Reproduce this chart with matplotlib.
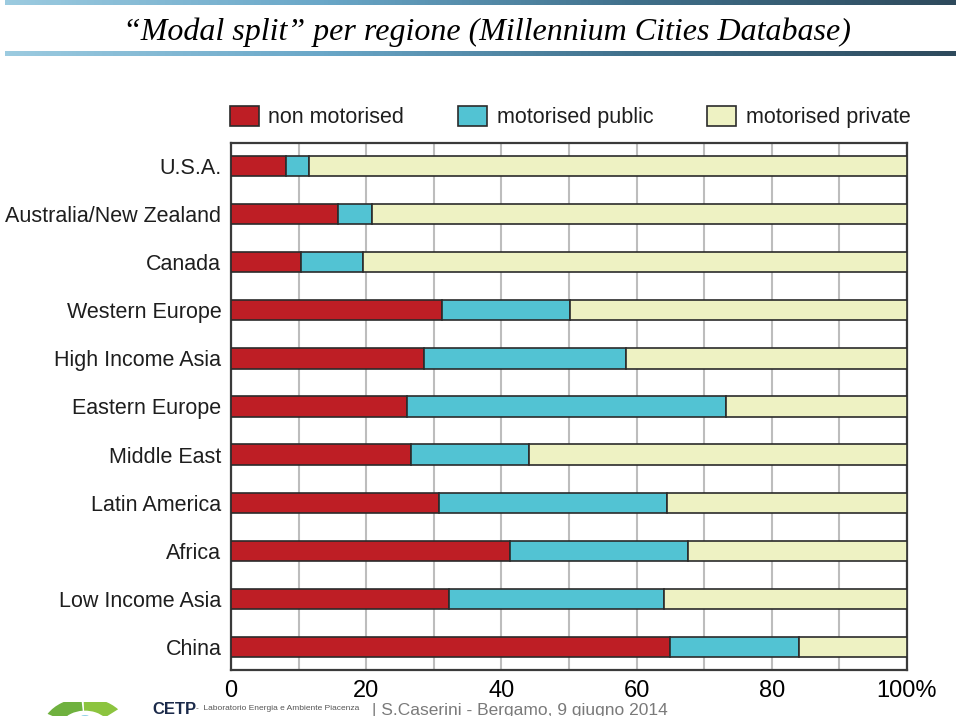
import numpy as np
import matplotlib
matplotlib.use("Agg")
import matplotlib.pyplot as plt
from matplotlib.patches import Rectangle, Wedge, Circle

# data (percent of trips)
regions = ["U.S.A.", "Australia/New Zealand", "Canada", "Western Europe",
           "High Income Asia", "Eastern Europe", "Middle East", "Latin America",
           "Africa", "Low Income Asia", "China"]
non_motorised = [8.1, 15.8, 10.4, 31.2, 28.5, 26.0, 26.6, 30.7, 41.3, 32.3, 65.0]
motorised_public = [3.4, 5.1, 9.1, 18.9, 29.9, 47.2, 17.5, 33.8, 26.3, 31.8, 19.0]
motorised_private = [100 - a - b for a, b in zip(non_motorised, motorised_public)]
series_labels = ["non motorised", "motorised public", "motorised private"]
series_colors = ["#be1e25", "#52c3d3", "#eef2c3"]
xticks = [0, 20, 40, 60, 80, 100]
xtick_labels = ["0", "20", "40", "60", "80", "100%"]

title = "\u201cModal split\u201d per regione (Millennium Cities Database)"

fig = plt.figure(figsize=(9.6, 7.16), dpi=100)
fig.patch.set_facecolor("white")

# title with gradient rules above and below
fig.text(0.507, 1 - 32 / 716, title, ha="center", va="center",
         family="Liberation Serif", style="italic", fontsize=23)
grad = np.linspace(0, 1, 256).reshape(1, -1)
cmap = matplotlib.colors.LinearSegmentedColormap.from_list(
    "rule", ["#9ccbe0", "#6aa7c8", "#3f6f8a", "#2e4a5c"])
for ytop, h in [(0, 5), (51, 5)]:
    lax = fig.add_axes([5 / 960, 1 - (ytop + h) / 716, 950 / 960, h / 716])
    lax.imshow(grad, aspect="auto", cmap=cmap)
    lax.axis("off")

ax = fig.add_axes([231 / 960, 1 - 670 / 716, 676 / 960, 527 / 716])
y = np.arange(len(regions))
left = np.zeros(len(regions))
for vals, lab, col in zip([non_motorised, motorised_public, motorised_private],
                          series_labels, series_colors):
    ax.barh(y, vals, left=left, height=0.42, color=col, edgecolor="#2b2b2b",
            linewidth=1.2, label=lab, zorder=3)
    left += np.array(vals)

ax.set_xlim(0, 100)
ax.set_ylim(len(regions) - 0.52, -0.48)
ax.set_xticks(xticks)
ax.set_xticklabels(xtick_labels, family="Liberation Sans", fontsize=17)
ax.set_xticks(np.arange(10, 100, 10), minor=True)
ax.set_yticks(y)
ax.set_yticklabels(regions, family="Liberation Sans", fontsize=15.5, color="#1e1e1e")
ax.tick_params(axis="both", which="both", length=0)
ax.tick_params(axis="x", pad=7)
ax.tick_params(axis="y", pad=7)
ax.grid(axis="x", which="both", color="#bdbdbd", linewidth=1.5, zorder=0)
for s in ax.spines.values():
    s.set_color("#3a3a3a")
    s.set_linewidth(1.6)

leg = ax.legend(loc="lower left", bbox_to_anchor=(-0.002, 1.028), ncol=3,
                frameon=False, prop={"family": "Liberation Sans", "size": 15.5},
                handlelength=1.35, handleheight=1.05, handletextpad=0.45,
                columnspacing=2.5, borderaxespad=0, borderpad=0)
for t in leg.get_texts():
    t.set_color("#1e1e1e")

# footer (partly hidden behind the chart picture)
fig.add_artist(Rectangle((0, 1 - 702 / 716), 1, 30 / 716, transform=fig.transFigure,
                         facecolor="white", edgecolor="none", zorder=-1))
for th1, th2, c in [(95, 150, "#6fb13f"), (40, 92, "#8cc43f"), (155, 200, "#4e9a3a")]:
    fig.add_artist(Wedge((85 / 960, 1 - 730 / 716), 0.045, th1, th2,
                         width=0.018, transform=fig.transFigure,
                         facecolor=c, edgecolor="none", zorder=-2))
fig.add_artist(Circle((85 / 960, 1 - 724 / 716), 0.012, transform=fig.transFigure,
                      facecolor="#47b3d6", edgecolor="none", zorder=-2))
fig.text(152 / 960, 1 - 709 / 716, "CETP", fontsize=12, weight="bold",
         color="#1b2a4a", family="Liberation Sans", va="center", zorder=-2)
fig.text(196 / 960, 1 - 708 / 716, "-  Laboratorio Energia e Ambiente Piacenza",
         fontsize=6, color="#555555", family="Liberation Sans", va="center", zorder=-2)
fig.text(372 / 960, 1 - 710 / 716, "| S.Caserini - Bergamo, 9 giugno 2014",
         fontsize=12.5, color="#7a7a7a", family="Liberation Sans", va="center", zorder=-2)

fig.savefig("out.png", dpi=100, facecolor="white")
